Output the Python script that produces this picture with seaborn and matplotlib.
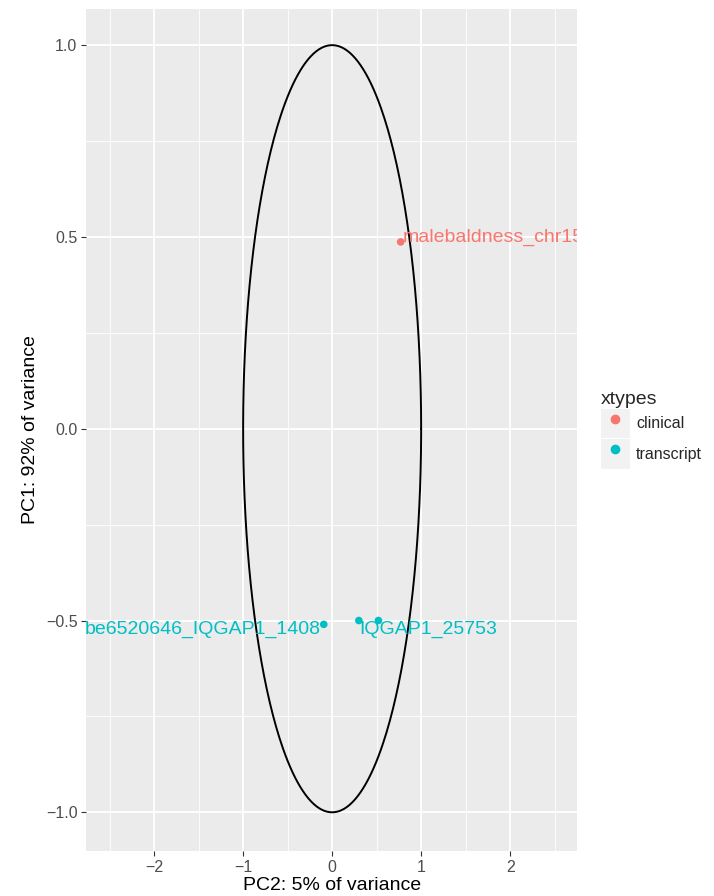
import numpy as np
import pandas as pd
import matplotlib
matplotlib.use("Agg")
import matplotlib.pyplot as plt
import seaborn as sns
from matplotlib.lines import Line2D
from matplotlib.patches import Rectangle
from matplotlib.legend_handler import HandlerTuple

# data
names = ["malebaldness_chr15", "be6520646_IQGAP1_1408", "IQGAP1_25753", ""]
xtypes = ["clinical", "transcript", "transcript", "transcript"]
pc2 = [0.77, -0.094, 0.30, 0.52]
pc1 = [0.487, -0.51, -0.50, -0.50]
# label offsets (points) and alignment
label_dx = [1.5, -2.5, 0.5, 0]
label_dy = [3.5, -4.0, -6.5, 0]
label_ha = ["left", "right", "left", "left"]

palette = {"clinical": "#F8766D", "transcript": "#00BFC4"}

df = pd.DataFrame({"name": names, "xtypes": xtypes, "PC2": pc2, "PC1": pc1})

sns.set_theme(style="darkgrid", rc={
    "axes.facecolor": "#EBEBEB",
    "grid.color": "white",
    "axes.edgecolor": "#EBEBEB",
})
plt.rcParams["font.family"] = ["Liberation Sans", "DejaVu Sans"]

fig = plt.figure(figsize=(7.14, 8.96), dpi=100)
ax = fig.add_axes([0.1211, 0.0506, 0.808 - 0.1211, 0.9903 - 0.0506])

sns.scatterplot(data=df, x="PC2", y="PC1", hue="xtypes", palette=palette,
                s=30, edgecolor="none", legend=False, ax=ax, zorder=3)

# unit circle
t = np.linspace(0, 2 * np.pi, 400)
ax.plot(np.cos(t), np.sin(t), color="black", lw=1.4, zorder=2)

for i in range(len(df)):
    if not names[i]:
        continue
    ax.annotate(names[i], (pc2[i], pc1[i]), xytext=(label_dx[i], label_dy[i]),
                textcoords="offset points", ha=label_ha[i], va="center",
                color=palette[xtypes[i]], fontsize=14, annotation_clip=False,
                clip_on=True, zorder=4)

ax.set_xlim(-2.76, 2.75)
ax.set_ylim(-1.1, 1.095)
ax.set_xticks([-2, -1, 0, 1, 2])
ax.set_yticks([-1.0, -0.5, 0.0, 0.5, 1.0])
ax.set_yticklabels(["\u22121.0", "\u22120.5", "0.0", "0.5", "1.0"])
ax.set_xticklabels(["\u22122", "\u22121", "0", "1", "2"])
ax.set_xticks([-2.5, -1.5, -0.5, 0.5, 1.5, 2.5], minor=True)
ax.set_yticks([-0.75, -0.25, 0.25, 0.75], minor=True)
ax.grid(which="major", color="white", lw=1.3)
ax.grid(which="minor", color="white", lw=0.6)
ax.tick_params(which="major", length=3.5, width=0.8, color="#333333",
               labelsize=11.5, labelcolor="#4D4D4D", pad=3, left=True, bottom=True)
ax.tick_params(which="minor", length=0)
ax.set_xlabel("PC2: 5% of variance", fontsize=14, color="black", labelpad=2)
ax.set_ylabel("PC1: 92% of variance", fontsize=14, color="black", labelpad=5)
for s in ax.spines.values():
    s.set_visible(False)

handles = []
for k in ["clinical", "transcript"]:
    bg = Rectangle((0, 0), 1, 1, facecolor="#F2F2F2", edgecolor="none")
    mk = Line2D([], [], marker="o", ls="", color=palette[k], markersize=6)
    handles.append((bg, mk))
leg = fig.legend(handles, ["clinical", "transcript"], title="xtypes",
                 handler_map={tuple: HandlerTuple(ndivide=1)},
                 loc="upper left", bbox_to_anchor=(0.83, 0.573),
                 frameon=False, fontsize=11.5, title_fontsize=14,
                 handlelength=1.82, handleheight=2.45, labelspacing=0.08,
                 handletextpad=0.4, borderpad=0)
leg._legend_box.align = "left"

fig.savefig("out.png", dpi=100)
